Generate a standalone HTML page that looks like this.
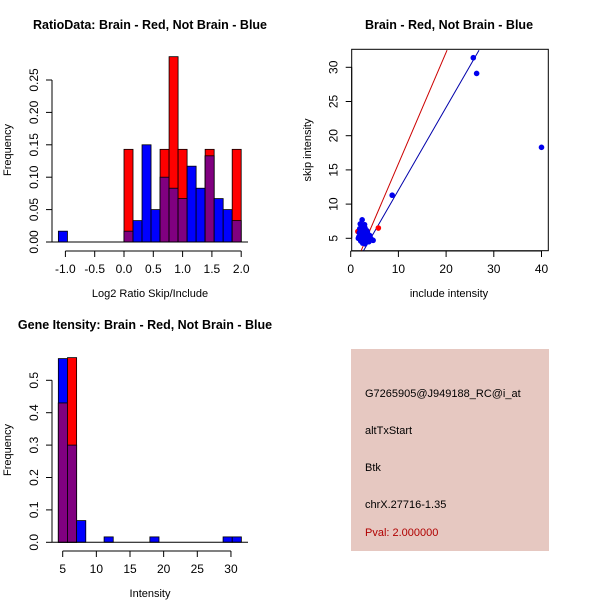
<!DOCTYPE html>
<html><head><meta charset="utf-8"><style>
body{margin:0;background:#fff}
svg{display:block;font-family:"Liberation Sans",sans-serif}
</style></head><body>
<svg id="c" width="600" height="600" xmlns="http://www.w3.org/2000/svg">
<rect x="351" y="349" width="198" height="202" fill="#E6C8C1"/>
<text x="365" y="397" font-size="11">G7265905@J949188_RC@i_at</text>
<text x="365" y="434" font-size="11">altTxStart</text>
<text x="365" y="471" font-size="11">Btk</text>
<text x="365" y="508" font-size="11">chrX.27716-1.35</text>
<text x="365" y="536" font-size="11" fill="#B00000">Pval: 2.000000</text>
</svg>
<script>
// ---- Data ----
const ratioBreaks=[-1.12,-0.965,0,0.1538,0.3077,0.4615,0.6154,0.7692,0.9231,1.0769,1.2308,1.3846,1.5385,1.6923,1.8462,2.0];
const ratioBlue=[0.0167,0,0.0167,0.033,0.15,0.05,0.10,0.083,0.067,0.117,0.083,0.133,0.067,0.05,0.033];
const ratioRed=[0,0,0.143,0,0,0,0.143,0.286,0.143,0,0,0.143,0,0,0.143];
const ratioXTicks=[-1.0,-0.5,0.0,0.5,1.0,1.5,2.0];
const ratioXLabels=["-1.0","-0.5","0.0","0.5","1.0","1.5","2.0"];
const ratioYTicks=[0,0.05,0.10,0.15,0.20,0.25];
const ratioYLabels=["0.00","0.05","0.10","0.15","0.20","0.25"];

const intStart=4.35, intWidth=1.36;
const intBlue=[0.567,0.30,0.067,0,0,0.0167,0,0,0,0,0.0167,0,0,0,0,0,0,0,0.0167,0.0167];
const intRed=[0.43,0.57,0,0,0,0,0,0,0,0,0,0,0,0,0,0,0,0,0,0];
const intXTicks=[5,10,15,20,25,30];
const intYTicks=[0,0.1,0.2,0.3,0.4,0.5];
const intYLabels=["0.0","0.1","0.2","0.3","0.4","0.5"];

const blueX=[25.7,26.4,40,8.7,2.4,2.0,1.6,1.8,2.2,2.6,3.0,3.3,2.8,2.1,2.5,3.6,4.0,4.7,3.1,2.3,2.7,1.9,3.4,2.9,2.2,3.8,4.2,2.0,2.6,3.2,2.4,1.7,3.0,3.5,2.8];
const blueY=[31.4,29.1,18.3,11.3,7.7,7.1,5.0,5.8,6.2,6.8,6.5,5.5,5.2,4.6,4.3,4.8,5.4,4.7,4.4,5.9,6.0,6.4,6.1,7.0,5.3,4.5,5.0,5.6,4.9,5.7,6.6,5.2,4.2,5.9,5.5];
const redX=[5.8,1.5];
const redY=[6.5,6.0];
const redLine=[[2.2,3.2],[20.2,32.5]];
const blueLine=[[2.7,3.2],[26.9,32.5]];
const scXTicks=[0,10,20,30,40];
const scYTicks=[5,10,15,20,25,30];

// ---- Drawing ----
const svg=document.getElementById('c');
const NS='http://www.w3.org/2000/svg';
function mk(tag,attrs,name,parent){const e=document.createElementNS(NS,tag);for(const k in attrs)e.setAttribute(k,attrs[k]);


(parent||svg).appendChild(e);return e;}
function txt(x,y,s,name,opt){const t=mk('text',Object.assign({x:x,y:y,'font-size':12,'text-anchor':'middle'},opt||{}),name);t.textContent=s;return t;}
function vtxt(x,y,s,name,size){const t=mk('text',{x:0,y:0,'font-size':size||12,'text-anchor':'middle',transform:`translate(${x},${y}) rotate(-90)`},name);t.textContent=s;return t;}

function axes(sx,sy,xt,xl,yt,yl,xAxisY,yAxisX,prefix){
  mk('line',{x1:sx(xt[0]),x2:sx(xt[xt.length-1]),y1:xAxisY,y2:xAxisY,stroke:'#000'},prefix+'-x-axis');
  xt.forEach((v,i)=>{mk('line',{x1:sx(v),x2:sx(v),y1:xAxisY,y2:xAxisY+6,stroke:'#000'},prefix+'-x-tick');
    txt(sx(v),xAxisY+22,xl[i],prefix+'-x-tick-label');});
  mk('line',{x1:yAxisX,x2:yAxisX,y1:sy(yt[0]),y2:sy(yt[yt.length-1]),stroke:'#000'},prefix+'-y-axis');
  yt.forEach((v,i)=>{mk('line',{x1:yAxisX-6,x2:yAxisX,y1:sy(v),y2:sy(v),stroke:'#000'},prefix+'-y-tick');
    vtxt(yAxisX-14,sy(v),yl[i],prefix+'-y-tick-label');});
}
function bar(x0,x1,y0,v,sy,fill,name){if(v<=0)return;mk('rect',{x:x0,y:sy(v),width:x1-x0,height:y0-sy(v),fill:fill,stroke:'#000','stroke-width':0.8},name);}

// Plot 1
(function(){
  const sx=v=>124+(v-0)*58.6, sy=v=>242-v*648;
  txt(150,29,'RatioData: Brain - Red, Not Brain - Blue','ratio-title',{'font-weight':'bold','font-size':12.5});
  ratioBlue.forEach((b,i)=>{const x0=sx(ratioBreaks[i]),x1=sx(ratioBreaks[i+1]);const r=ratioRed[i];
    bar(x0,x1,242,b,sy,'#0000FF','ratio-bar-blue');bar(x0,x1,242,r,sy,'#FF0000','ratio-bar-red');
    bar(x0,x1,242,Math.min(b,r),sy,'#800080','ratio-bar-overlap');});
  mk('line',{x1:52,x2:248,y1:242,y2:242,stroke:'#000'},'ratio-baseline');
  axes(sx,sy,ratioXTicks,ratioXLabels,ratioYTicks,ratioYLabels,251,52,'ratio');
  txt(150,297,'Log2 Ratio Skip/Include','ratio-x-title',{'font-size':11});
  vtxt(11,150,'Frequency','ratio-y-title',11);
})();

// Plot 2
(function(){
  const sx=v=>350.7+v*4.77, sy=v=>238.3-(v-5)*6.84;
  txt(449,29,'Brain - Red, Not Brain - Blue','scatter-title',{'font-weight':'bold','font-size':12.5});
  mk('rect',{x:351.7,y:49.3,width:196.6,height:201.4,fill:'none',stroke:'#000'},'scatter-frame');
  const cp=mk('clipPath',{id:'cp'},'scatter-clip');mk('rect',{x:351.7,y:49.3,width:196.6,height:201.4},'scatter-clip-rect',cp);
  mk('line',{x1:sx(redLine[0][0]),y1:sy(redLine[0][1]),x2:sx(redLine[1][0]),y2:sy(redLine[1][1]),stroke:'#CC0000','clip-path':'url(#cp)'},'red-fit-line');
  mk('line',{x1:sx(blueLine[0][0]),y1:sy(blueLine[0][1]),x2:sx(blueLine[1][0]),y2:sy(blueLine[1][1]),stroke:'#0000AA','clip-path':'url(#cp)'},'blue-fit-line');
  redX.forEach((x,i)=>mk('circle',{cx:sx(x),cy:sy(redY[i]),r:2.8,fill:'#FF0000'},'red-point'));
  blueX.forEach((x,i)=>mk('circle',{cx:sx(x),cy:sy(blueY[i]),r:2.8,fill:'#0000EE'},'blue-point'));
  axes(sx,sy,scXTicks,scXTicks.map(String),scYTicks,scYTicks.map(String),251,351.7,'scatter');
  txt(449,297,'include intensity','scatter-x-title',{'font-size':11});
  vtxt(311,150,'skip intensity','scatter-y-title',11);
})();

// Plot 3
(function(){
  const sx=v=>62.7+(v-5)*6.73, sy=v=>542.3-v*324;
  txt(145,329,'Gene Itensity: Brain - Red, Not Brain - Blue','intensity-title',{'font-weight':'bold','font-size':12.5});
  intBlue.forEach((b,i)=>{const x0=sx(intStart+i*intWidth),x1=sx(intStart+(i+1)*intWidth);const r=intRed[i];
    bar(x0,x1,542.3,b,sy,'#0000FF','intensity-bar-blue');bar(x0,x1,542.3,r,sy,'#FF0000','intensity-bar-red');
    bar(x0,x1,542.3,Math.min(b,r),sy,'#800080','intensity-bar-overlap');});
  mk('line',{x1:52,x2:248,y1:542.3,y2:542.3,stroke:'#000'},'intensity-baseline');
  axes(sx,sy,intXTicks,intXTicks.map(String),intYTicks,intYLabels,551,52,'intensity');
  txt(150,597,'Intensity','intensity-x-title',{'font-size':11});
  vtxt(11,450,'Frequency','intensity-y-title',11);
})();
</script>
</body></html>
